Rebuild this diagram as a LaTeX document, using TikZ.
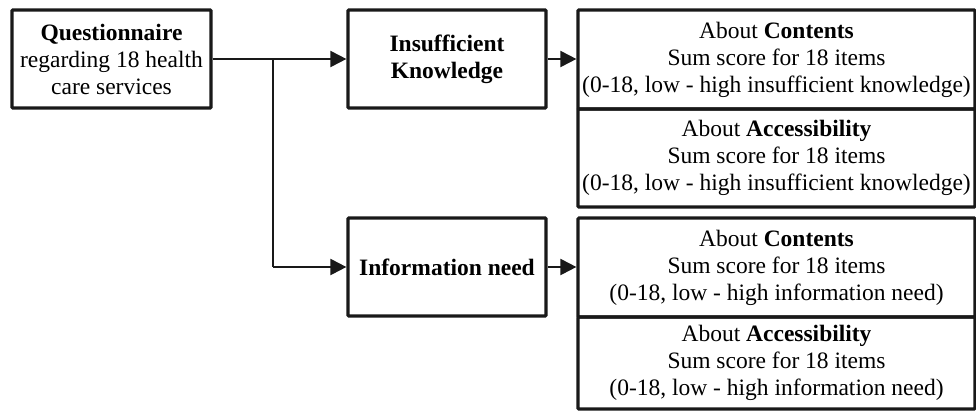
\documentclass[tikz,border=0pt]{standalone}
\usepackage{fontspec}
\setmainfont{Liberation Serif}
\usetikzlibrary{arrows.meta}
\begin{document}
\begin{tikzpicture}[x=1pt,y=-1pt,
  box/.style={draw=black!90, line width=3.2pt, rounded corners=1pt, align=center, inner sep=0pt,
    font=\fontsize{23.5}{27}\selectfont},
  conn/.style={draw=black!90, line width=2pt, -{Triangle[length=16pt,width=16pt]}},
  line/.style={draw=black!90, line width=2pt}]
\useasboundingbox (0,0) rectangle (976,415);
\node[box, minimum width=199pt, minimum height=98pt] (q) at (111.5,59)
  {\textbf{Questionnaire}\\regarding 18 health\\care services};
\node[box, minimum width=198pt, minimum height=98pt] (ik) at (447,59)
  {\textbf{Insufficient}\\\textbf{Knowledge}};
\node[box, minimum width=198pt, minimum height=98pt] (in) at (447,267)
  {\textbf{Information need}};
\node[box, minimum width=397pt, minimum height=99pt] (c1) at (776.5,59.5)
  {About \textbf{Contents}\\Sum score for 18 items\\(0-18, low - high insufficient knowledge)};
\node[box, minimum width=397pt, minimum height=98pt] (a1) at (776.5,158)
  {About \textbf{Accessibility}\\Sum score for 18 items\\(0-18, low - high insufficient knowledge)};
\node[box, minimum width=397pt, minimum height=99pt] (c2) at (776.5,267.5)
  {About \textbf{Contents}\\Sum score for 18 items\\(0-18, low - high information need)};
\node[box, minimum width=397pt, minimum height=92pt] (a2) at (776.5,363)
  {About \textbf{Accessibility}\\Sum score for 18 items\\(0-18, low - high information need)};
\coordinate (j) at (273,59);
\draw[conn] (q.east) -- (ik.west);
\draw[line] (j) -- (j |- in.west);
\draw[conn] (j |- in.west) -- (in.west);
\draw[conn] (ik.east) -- (ik.east -| c1.west);
\draw[conn] (in.east) -- (in.east -| c2.west);
\end{tikzpicture}
\end{document}
